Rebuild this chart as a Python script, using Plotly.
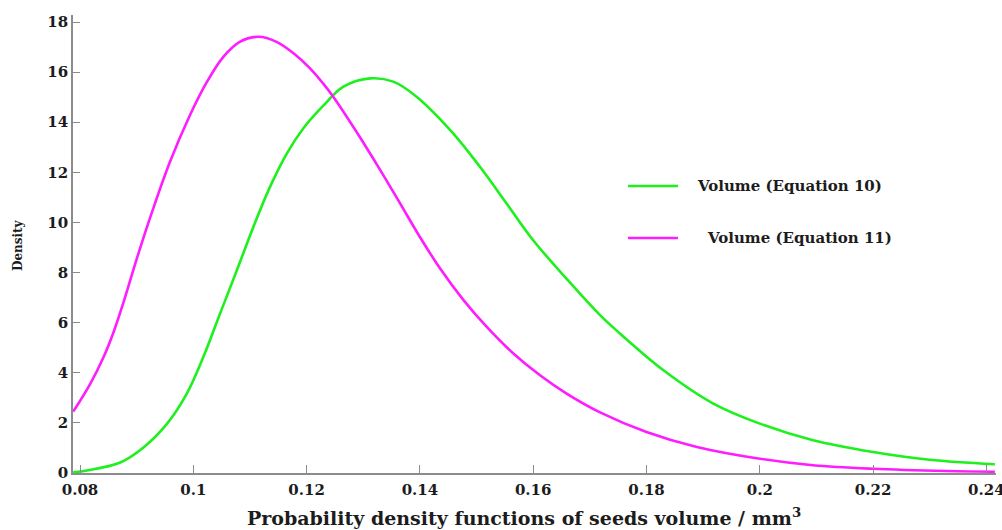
import plotly.graph_objects as go

# Seed volume (mm^3) and probability density for the two volume equations
vol_eq10 = [0.0788, 0.0812, 0.0871, 0.0912, 0.0953, 0.0988, 0.1018, 0.1047, 0.1077,
            0.1106, 0.1135, 0.1165, 0.1194, 0.1229, 0.1265, 0.1312, 0.1353,
            0.1394, 0.1459, 0.1506, 0.1553, 0.1600, 0.1659, 0.1718, 0.1753, 0.1830,
            0.1918, 0.2000, 0.2094, 0.2200, 0.2300, 0.2415]
dens_eq10 = [0.03, 0.10, 0.42, 1.02, 1.95, 3.15, 4.65, 6.35, 8.10,
             9.82, 11.40, 12.75, 13.75, 14.65, 15.42, 15.75, 15.62,
             15.02, 13.55, 12.22, 10.76, 9.29, 7.75, 6.30, 5.57, 4.10,
             2.77, 1.97, 1.31, 0.84, 0.53, 0.35]

vol_eq11 = [0.0788, 0.0818, 0.0841, 0.0859, 0.0876, 0.0900, 0.0929, 0.0959, 0.0994,
            0.1024, 0.1053, 0.1082, 0.1115, 0.1147, 0.1177, 0.1206, 0.1229, 0.1247,
            0.1288, 0.1330, 0.1365, 0.1400, 0.1436, 0.1477, 0.1518, 0.1565, 0.1612,
            0.1659, 0.1718, 0.1800, 0.1889, 0.2000, 0.2094, 0.2200, 0.2330, 0.2415]
dens_eq11 = [2.45, 3.56, 4.60, 5.61, 6.76, 8.54, 10.54, 12.43, 14.28,
             15.61, 16.61, 17.21, 17.41, 17.21, 16.75, 16.15, 15.55, 15.02,
             13.62, 12.09, 10.76, 9.42, 8.15, 6.90, 5.83, 4.77, 3.90,
             3.17, 2.42, 1.64, 1.04, 0.57, 0.31, 0.17, 0.08, 0.05]

x_ticks = [0.08, 0.1, 0.12, 0.14, 0.16, 0.18, 0.2, 0.22, 0.24]
x_tick_text = ["0.08", "0.1", "0.12", "0.14", "0.16", "0.18", "0.2", "0.22", "0.24"]
y_ticks = [0, 2, 4, 6, 8, 10, 12, 14, 16, 18]

series_names = ["Volume (Equation 10)", "Volume (Equation 11)"]
GREEN = "#1ef01e"
MAGENTA = "#ff1cff"
AXIS = "#8c8c8c"
TEXT = "#1c1c1c"
FONT = "DejaVu Serif"

fig = go.Figure()
fig.add_trace(go.Scatter(x=vol_eq10, y=dens_eq10, mode="lines", name=series_names[0],
                         line=dict(color=GREEN, width=2.6, shape="spline", smoothing=1.0)))
fig.add_trace(go.Scatter(x=vol_eq11, y=dens_eq11, mode="lines", name=series_names[1],
                         line=dict(color=MAGENTA, width=2.6, shape="spline", smoothing=1.0)))

axis_common = dict(showline=True, linecolor=AXIS, linewidth=1.6, ticks="inside",
                   tickcolor=AXIS, tickwidth=1.4, showgrid=False, zeroline=False,
                   tickfont=dict(family=FONT, size=15, color=TEXT, weight="bold"))

fig.update_xaxes(range=[0.07876, 0.2417], tickvals=x_ticks, ticktext=x_tick_text,
                 ticklen=8, ticklabeloverflow="allow", ticklabelstandoff=2,
                 **axis_common)
fig.update_yaxes(range=[0, 18.28], tickvals=y_ticks, ticklen=7, **axis_common)

# Legend drawn as line samples with labels beside them
L, W, B, H = 73, 923, 57, 458


def px_x(px):
    return (px - L) / W


def px_y(py):
    return (530 - B - py) / H


shapes = []
annotations = []
for name, color, py, tx in [(series_names[0], GREEN, 186, 695),
                            (series_names[1], MAGENTA, 238, 705)]:
    shapes.append(dict(type="line", xref="paper", yref="paper",
                       x0=px_x(628), x1=px_x(678), y0=px_y(py), y1=px_y(py),
                       line=dict(color=color, width=2.6)))
    annotations.append(dict(xref="paper", yref="paper", x=px_x(tx), y=px_y(py),
                            xanchor="left", yanchor="middle", showarrow=False,
                            text=name,
                            font=dict(family=FONT, size=15, color=TEXT, weight="bold")))

annotations.append(dict(xref="paper", yref="paper", x=px_x(524), y=px_y(517),
                        xanchor="center", yanchor="middle", showarrow=False,
                        text="Probability density functions of seeds volume / mm<sup>3</sup>",
                        font=dict(family=FONT, size=19, color=TEXT, weight="bold")))
annotations.append(dict(xref="paper", yref="paper", x=px_x(18), y=px_y(245),
                        xanchor="center", yanchor="middle", showarrow=False,
                        text="Density", textangle=-90,
                        font=dict(family=FONT, size=12, color=TEXT, weight="bold")))

fig.update_layout(width=1002, height=530,
                  margin=dict(l=L, r=6, t=15, b=B, autoexpand=False),
                  paper_bgcolor="white", plot_bgcolor="white",
                  showlegend=False, shapes=shapes, annotations=annotations)

fig.write_html("out.html")
